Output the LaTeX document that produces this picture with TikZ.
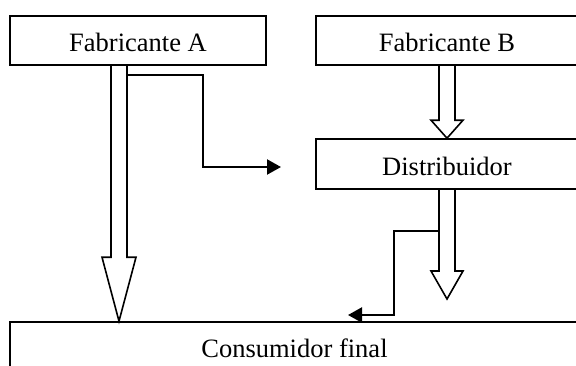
\documentclass[tikz,border=0pt]{standalone}
\usepackage{fontspec}
\setmainfont{Liberation Serif}
\usetikzlibrary{calc,arrows.meta}

\tikzset{
  box/.style={draw, line width=1.6pt, rectangle, inner sep=0pt,
    text height=22pt, text depth=0pt,
    font=\fontsize{26.5}{30}\selectfont},
  fatarrow/.style={draw, line width=1.6pt, miter limit=20},
  flow/.style={draw, line width=2.2pt,
    -{Triangle[length=14pt,width=15pt]}},
}

% hollow block arrow: #1 start, #2 tip, #3 shaft half width,
% #4 head half width, #5 head length
\newcommand\hollowarrow[5]{%
  \draw[fatarrow] ($(#1)+(-#3,0)$) -- ($(#2)+(-#3,-#5)$) -- ($(#2)+(-#4,-#5)$)
    -- (#2) -- ($(#2)+(#4,-#5)$) -- ($(#2)+(#3,-#5)$) -- ($(#1)+(#3,0)$);}

\begin{document}
\begin{tikzpicture}[x=1pt,y=-1pt]
  \useasboundingbox (0,0) rectangle (576,365);
  \clip (0,0) rectangle (576,365);

  % the four parties
  \node[box, minimum width=256pt, minimum height=49pt] (fa) at (138,40.5) {Fabricante A};
  \node[box, minimum width=262pt, minimum height=49pt] (fb) at (447,40.5) {Fabricante B};
  \node[box, minimum width=262pt, minimum height=50pt] (dist) at (447,164) {Distribuidor};
  \node[box, minimum width=569pt, minimum height=48pt] (cons) at (294.5,346) {Consumidor final};

  % reference points for the connectors
  \coordinate (xa) at (119,0);
  \coordinate (dtip) at (447,299);
  \coordinate (aend) at (281,167);
  \coordinate (cend) at (348,315);

  % main flows
  \hollowarrow{xa |- fa.south}{xa |- cons.north}{8}{17}{64}
  \hollowarrow{fb.south}{dist.north}{8}{16}{18}
  \hollowarrow{dist.south}{dtip}{8}{16}{28}

  % branch flows
  \draw[flow] ($(xa |- fa.south)+(8,9)$) -| ($(aend)+(-78,0)$) -- (aend);
  \draw[flow] ($(dist.south)+(-8,41)$) -| ($(cend)+(46,0)$) -- (cend);
\end{tikzpicture}
\end{document}
